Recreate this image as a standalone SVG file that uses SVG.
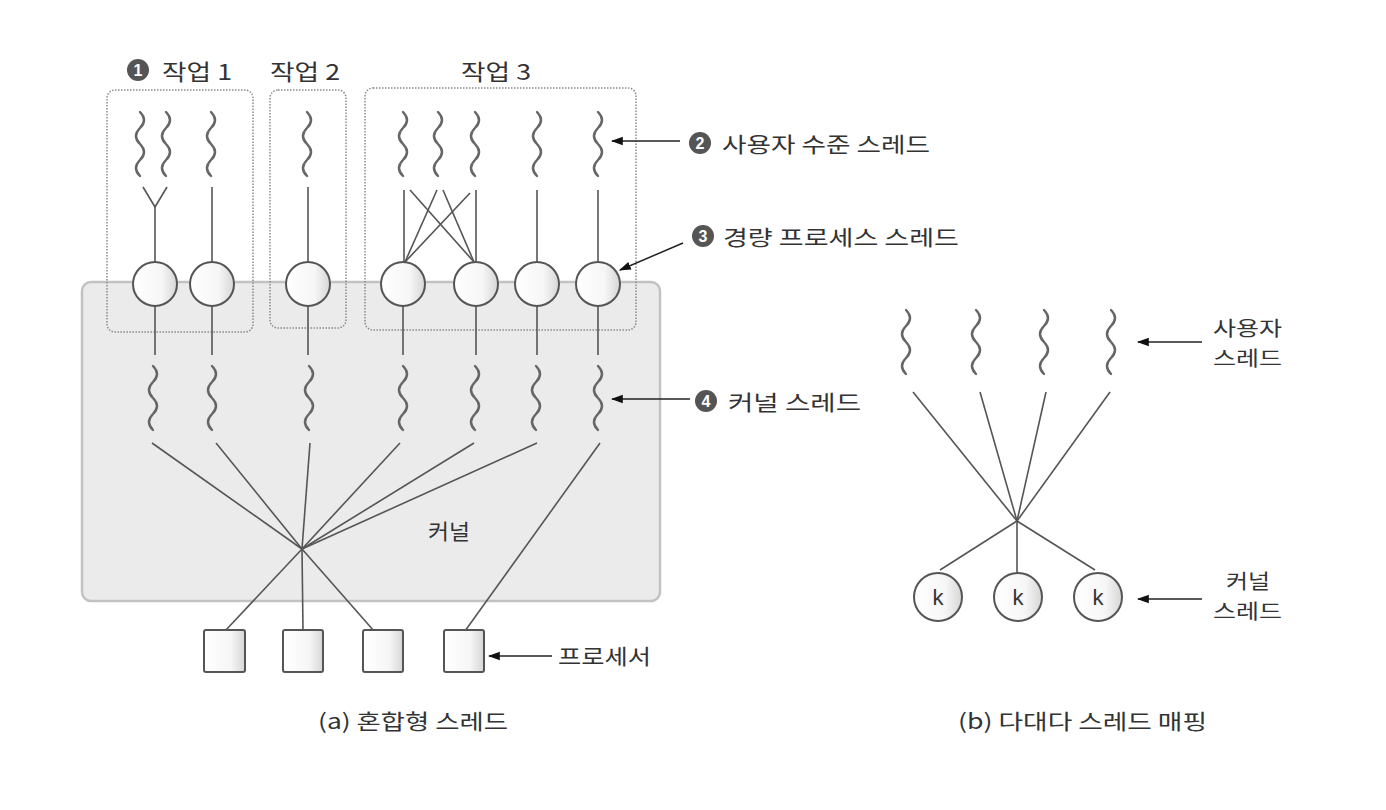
<svg xmlns="http://www.w3.org/2000/svg" width="1386" height="810" viewBox="0 0 1386 810">
<defs>
<linearGradient id="gc" x1="0" y1="0" x2="1" y2="0">
<stop offset="0" stop-color="#ffffff"/><stop offset="0.65" stop-color="#f6f6f6"/><stop offset="1" stop-color="#d6d6d6"/>
</linearGradient>
<marker id="ah2" viewBox="0 0 10 10" refX="9" refY="5" markerWidth="12" markerHeight="12" orient="auto" markerUnits="userSpaceOnUse">
<path d="M0,1.5 L10,5 L0,8.5 z" fill="#111"/>
</marker>
<path id="sq" d="M0,0 q8,8 0,16 t0,16 t0,16 t0,16" fill="none"/>
</defs>
<style>
.t{font-family:"Noto Sans CJK KR","Noto Sans",sans-serif;fill:#333;font-size:21px;dominant-baseline:central}
.big{font-size:22px}
.s{font-size:20px}
.k{font-family:"Liberation Sans",Arial,sans-serif;font-size:22px;fill:#333;text-anchor:middle;dominant-baseline:central}
.ln{stroke:#555;stroke-width:1.6;fill:none}
.sq{stroke:#666;stroke-width:2.4;fill:none;stroke-linecap:round}
.node{fill:url(#gc);stroke:#555;stroke-width:2}
.job{fill:none;stroke:#8a8a8a;stroke-width:1.5;stroke-dasharray:1.5 1.5}
.ar{stroke:#222;stroke-width:1.5;fill:none;marker-end:url(#ah2)}
.num{fill:#555}
.numt{font-family:"Liberation Sans",Arial,sans-serif;font-weight:bold;font-size:16px;fill:#fff;text-anchor:middle;dominant-baseline:central}
</style>
<rect width="1386" height="810" fill="#ffffff"/>

<g id="kernel">
<rect x="82" y="282" width="578" height="319" rx="9" fill="#ebebeb" stroke="#c2c2c2" stroke-width="2.5"/>
<text class="t" x="428" y="530" textLength="42" lengthAdjust="spacingAndGlyphs">커널</text>
</g>

<g id="job1">
<rect class="job" x="107" y="90" width="146" height="242" rx="8"/>
<circle class="num" cx="138" cy="70" r="11"/><text class="numt" x="138" y="70">1</text>
<text class="t big" x="162" y="70" textLength="70" lengthAdjust="spacingAndGlyphs">작업 1</text>
</g>
<g id="job2">
<rect class="job" x="270" y="90" width="76" height="238" rx="8"/>
<text class="t big" x="270" y="70" textLength="70" lengthAdjust="spacingAndGlyphs">작업 2</text>
</g>
<g id="job3">
<rect class="job" x="365" y="88" width="271" height="242" rx="8"/>
<text class="t big" x="461" y="70" textLength="70" lengthAdjust="spacingAndGlyphs">작업 3</text>
</g>

<g id="connectors">
<line class="ln" x1="143" y1="187" x2="155" y2="207"/>
<line class="ln" x1="167" y1="187" x2="155" y2="207"/>
<line class="ln" x1="155" y1="207" x2="155" y2="262"/>
<line class="ln" x1="212" y1="187" x2="212" y2="262"/>
<line class="ln" x1="308" y1="187" x2="308" y2="262"/>
<line class="ln" x1="404" y1="190" x2="404" y2="262"/>
<line class="ln" x1="410" y1="190" x2="474" y2="262"/>
<line class="ln" x1="437" y1="190" x2="405" y2="262"/>
<line class="ln" x1="443" y1="190" x2="474" y2="262"/>
<line class="ln" x1="470" y1="193" x2="405" y2="262"/>
<line class="ln" x1="476" y1="190" x2="476" y2="262"/>
<line class="ln" x1="537" y1="190" x2="537" y2="262"/>
<line class="ln" x1="598" y1="190" x2="598" y2="262"/>
<line class="ln" x1="155" y1="306" x2="155" y2="355"/>
<line class="ln" x1="212" y1="306" x2="212" y2="355"/>
<line class="ln" x1="308" y1="306" x2="308" y2="355"/>
<line class="ln" x1="403" y1="306" x2="403" y2="355"/>
<line class="ln" x1="476" y1="306" x2="476" y2="355"/>
<line class="ln" x1="537" y1="306" x2="537" y2="355"/>
<line class="ln" x1="598" y1="306" x2="598" y2="355"/>
<line class="ln" x1="152" y1="443" x2="302" y2="549"/>
<line class="ln" x1="216" y1="443" x2="302" y2="549"/>
<line class="ln" x1="310" y1="443" x2="302" y2="549"/>
<line class="ln" x1="400" y1="443" x2="302" y2="549"/>
<line class="ln" x1="474" y1="443" x2="302" y2="549"/>
<line class="ln" x1="537" y1="443" x2="302" y2="549"/>
<line class="ln" x1="600" y1="443" x2="465" y2="631"/>
<line class="ln" x1="302" y1="549" x2="225" y2="631"/>
<line class="ln" x1="302" y1="549" x2="303" y2="631"/>
<line class="ln" x1="302" y1="549" x2="374" y2="631"/>
<line class="ln" x1="913" y1="392" x2="1017" y2="521"/>
<line class="ln" x1="980" y1="392" x2="1017" y2="521"/>
<line class="ln" x1="1046" y1="392" x2="1017" y2="521"/>
<line class="ln" x1="1110" y1="392" x2="1017" y2="521"/>
<line class="ln" x1="1017" y1="521" x2="940" y2="570"/>
<line class="ln" x1="1017" y1="521" x2="1017" y2="573"/>
<line class="ln" x1="1017" y1="521" x2="1095" y2="570"/>
<line class="ar" x1="680" y1="141" x2="612" y2="141"/>
<line class="ar" x1="683" y1="243" x2="620" y2="270"/>
<line class="ar" x1="690" y1="399" x2="612" y2="399"/>
<line class="ar" x1="552" y1="656" x2="489" y2="656"/>
<line class="ar" x1="1202" y1="342" x2="1138" y2="342"/>
<line class="ar" x1="1202" y1="599" x2="1138" y2="599"/>
</g>

<g id="user-threads">
<use href="#sq" class="sq" x="140" y="112"/>
<use href="#sq" class="sq" x="166" y="112"/>
<use href="#sq" class="sq" x="211" y="112"/>
<use href="#sq" class="sq" x="307" y="112"/>
<use href="#sq" class="sq" x="403" y="112"/>
<use href="#sq" class="sq" x="438" y="112"/>
<use href="#sq" class="sq" x="475" y="112"/>
<use href="#sq" class="sq" x="537" y="112"/>
<use href="#sq" class="sq" x="598" y="112"/>
</g>

<g id="lwp">
<circle class="node" cx="155" cy="284" r="22"/>
<circle class="node" cx="212" cy="284" r="22"/>
<circle class="node" cx="308" cy="284" r="22"/>
<circle class="node" cx="403" cy="284" r="22"/>
<circle class="node" cx="476" cy="284" r="22"/>
<circle class="node" cx="537" cy="284" r="22"/>
<circle class="node" cx="598" cy="284" r="22"/>
</g>

<g id="kernel-threads">
<use href="#sq" class="sq" x="153" y="366"/>
<use href="#sq" class="sq" x="212" y="366"/>
<use href="#sq" class="sq" x="309" y="366"/>
<use href="#sq" class="sq" x="403" y="366"/>
<use href="#sq" class="sq" x="475" y="366"/>
<use href="#sq" class="sq" x="536" y="366"/>
<use href="#sq" class="sq" x="598" y="366"/>
</g>

<g id="processors">
<rect class="node" x="204" y="630" width="41" height="42" rx="2"/>
<rect class="node" x="283" y="630" width="40" height="42" rx="2"/>
<rect class="node" x="363" y="630" width="40" height="42" rx="2"/>
<rect class="node" x="444" y="630" width="40" height="42" rx="2"/>
</g>

<g id="labels-a">
<circle class="num" cx="700" cy="143" r="11"/><text class="numt" x="700" y="143">2</text>
<text class="t" x="722" y="143" textLength="208" lengthAdjust="spacingAndGlyphs">사용자 수준 스레드</text>
<circle class="num" cx="703" cy="236" r="11"/><text class="numt" x="703" y="236">3</text>
<text class="t" x="723" y="236" textLength="236" lengthAdjust="spacingAndGlyphs">경량 프로세스 스레드</text>
<circle class="num" cx="706" cy="401" r="11"/><text class="numt" x="706" y="401">4</text>
<text class="t" x="728" y="401" textLength="133" lengthAdjust="spacingAndGlyphs">커널 스레드</text>
<text class="t" x="558" y="655" textLength="93" lengthAdjust="spacingAndGlyphs">프로세서</text>
<text class="t" x="318" y="720" textLength="190" lengthAdjust="spacingAndGlyphs">(a) 혼합형 스레드</text>
</g>

<g id="b-user-threads">
<use href="#sq" class="sq" x="906" y="310"/>
<use href="#sq" class="sq" x="976" y="310"/>
<use href="#sq" class="sq" x="1044" y="310"/>
<use href="#sq" class="sq" x="1111" y="310"/>
</g>

<g id="b-kernel-threads">
<circle class="node" cx="938" cy="597" r="24"/><text class="k" x="938" y="597">k</text>
<circle class="node" cx="1018" cy="597" r="24"/><text class="k" x="1018" y="597">k</text>
<circle class="node" cx="1098" cy="597" r="24"/><text class="k" x="1098" y="597">k</text>
</g>

<g id="labels-b">
<text class="t s" x="1213" y="327" textLength="69" lengthAdjust="spacingAndGlyphs">사용자</text>
<text class="t s" x="1213" y="357" textLength="69" lengthAdjust="spacingAndGlyphs">스레드</text>
<text class="t s" x="1226" y="580" textLength="44" lengthAdjust="spacingAndGlyphs">커널</text>
<text class="t s" x="1213" y="610" textLength="69" lengthAdjust="spacingAndGlyphs">스레드</text>
<text class="t" x="958" y="720" textLength="249" lengthAdjust="spacingAndGlyphs">(b) 다대다 스레드 매핑</text>
</g>
</svg>
